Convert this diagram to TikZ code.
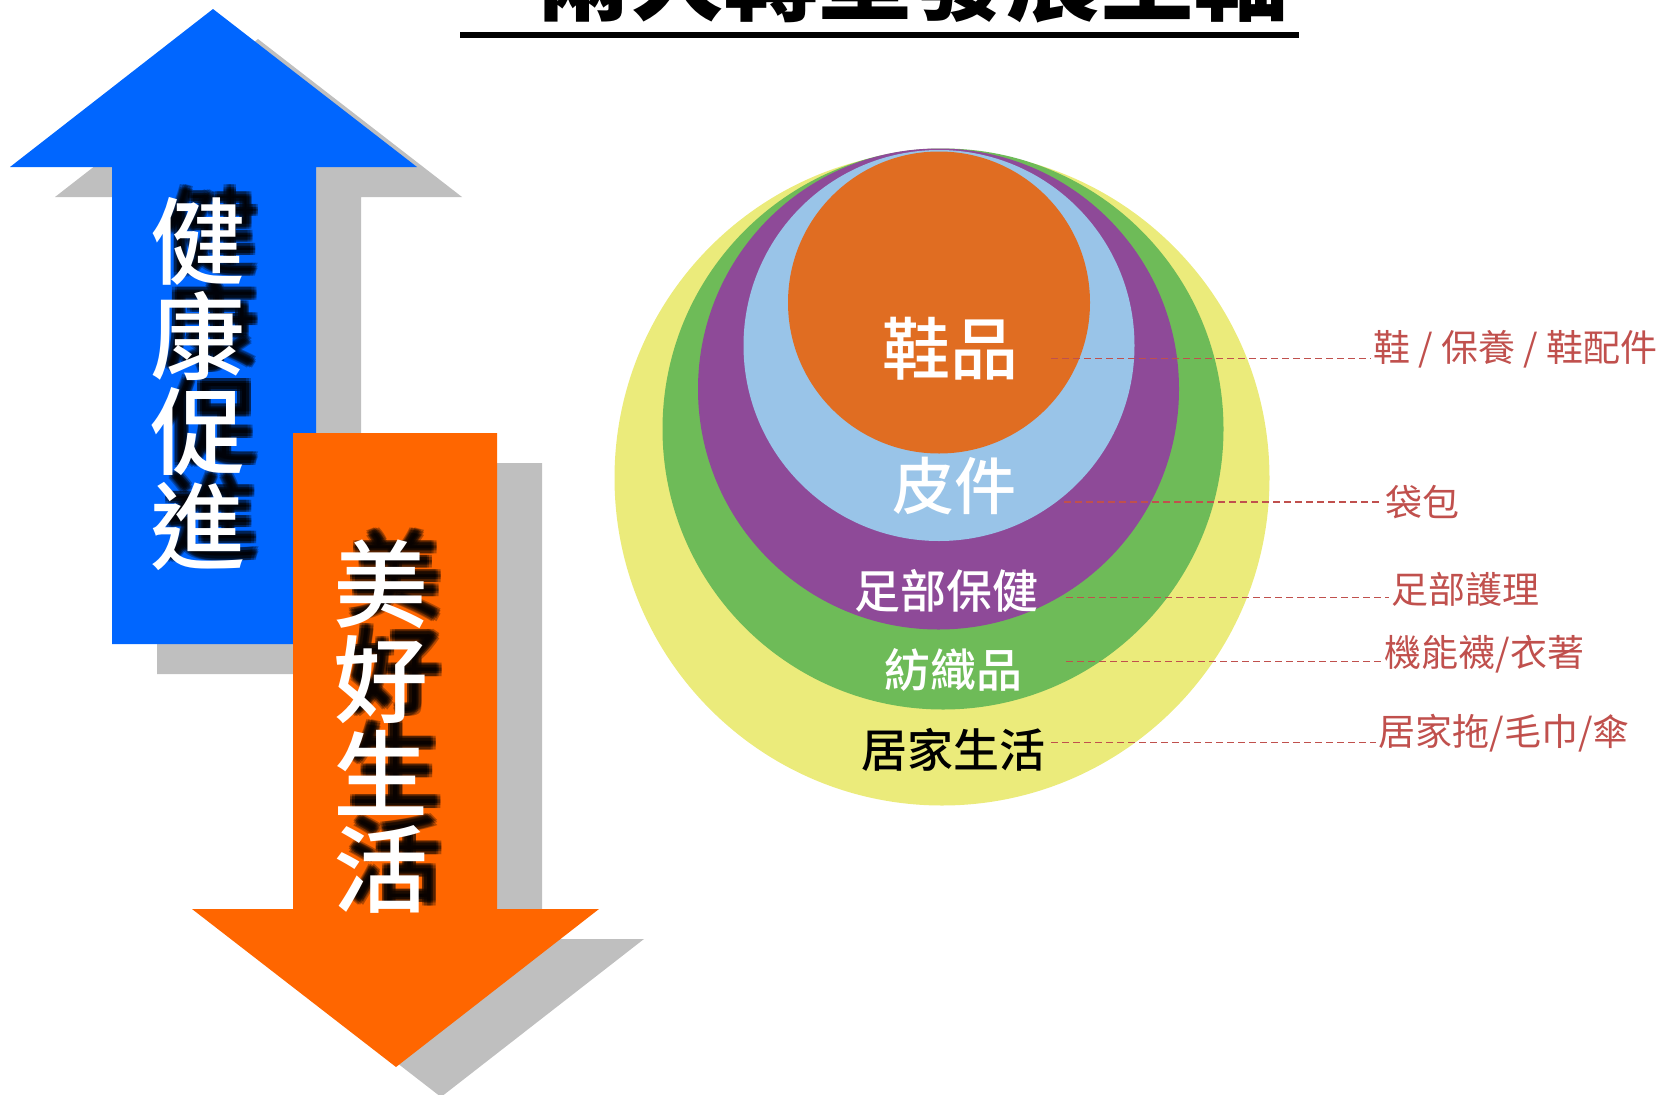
\documentclass[tikz,border=0pt]{standalone}
\usepackage{fontspec}
\setmainfont{Noto Sans CJK TC}
\newfontfamily\medfont{Noto Sans CJK TC Medium}
\definecolor{upblue}{HTML}{0066FF}
\definecolor{downorange}{HTML}{FF6600}
\definecolor{shadegray}{HTML}{BFBFBF}
\definecolor{ringyellow}{HTML}{EBEB7B}
\definecolor{ringgreen}{HTML}{6EBB58}
\definecolor{ringpurple}{HTML}{8E4A98}
\definecolor{ringblue}{HTML}{99C4E8}
\definecolor{ringorange}{HTML}{E06D22}
\definecolor{notered}{HTML}{C0504D}
\begin{document}
\begin{tikzpicture}[x=1pt, y=-1pt,
    ring/.style={circle, inner sep=0pt, minimum size=#1},
    ringtxt/.style={text=white, inner sep=0pt, font=\medfont\fontsize{#1}{#1}\selectfont},
    vtxt/.style={align=center, inner sep=0pt, font=\medfont\fontsize{95}{95}\selectfont},
    sidetxt/.style={anchor=west, inner sep=3pt, text=notered, font=\fontsize{37}{37}\selectfont},
    guide/.style={draw=notered, line width=1.8pt, dash pattern=on 7pt off 4pt}]
    \useasboundingbox (0,0) rectangle (1668,1095);
    %% Title
    \node[anchor=base west, inner sep=0pt, font=\bfseries\fontsize{94}{94}\selectfont]
        (title) at (442,13.5) {「兩大轉型發展主軸};
    \draw[line width=5.5pt] (460,35) -- (1299,35);
    %% Arrows
    \fill[shadegray, shift={(45,30)}] (213,9) -- (417,167) -- (316,167) -- (316,644)
        -- (112,644) -- (112,167) -- (10,167) -- cycle;
    \fill[upblue] (213,9) -- (417,167) -- (316,167) -- (316,644)
        -- (112,644) -- (112,167) -- (10,167) -- cycle;
    \fill[shadegray, shift={(45,30)}] (396,1067) -- (599,909) -- (497,909) -- (497,433)
        -- (293,433) -- (293,909) -- (192,909) -- cycle;
    \fill[downorange] (396,1067) -- (599,909) -- (497,909) -- (497,433)
        -- (293,433) -- (293,909) -- (192,909) -- cycle;
    %% Arrow Text
    \foreach \dx/\dy [count=\i] in {0/0,2.5/0,5/0,0/2.5,2.5/2.5,5/2.5,0/5,2.5/5,5/5}{
        \node[vtxt, text=black, opacity=0.3] (healthblur\i) at (209+\dx, 371.5+\dy) {健\\康\\促\\進};
        \node[vtxt, text=black, opacity=0.3] (lifeblur\i) at (392.5+\dx, 714.5+\dy) {美\\好\\生\\活};
    }
    \node[vtxt, text=white] (health) at (197.5,384) {健\\康\\促\\進};
    \node[vtxt, text=white] (life) at (381,727) {美\\好\\生\\活};
    %% Rings
    \node[ring=655, fill=ringyellow] (home) at (942,478) {};
    \node[ring=561, fill=ringgreen] (textile) at (943,429) {};
    \node[ring=481, fill=ringpurple] (footcare) at (938.5,389) {};
    \node[ring=391, fill=ringblue] (leather) at (939,345.5) {};
    \node[ring=302, fill=ringorange] (shoes) at (939,302.5) {};
    %% Ring Text
    \node[ringtxt=68] (shoestxt) at (950,349) {鞋品};
    \node[ringtxt=62] (leathertxt) at (954,486) {皮件};
    \node[ringtxt=46] (footcaretxt) at (946,591) {足部保健};
    \node[ringtxt=46] (textiletxt) at (953,670) {紡織品};
    \node[ringtxt=46, text=black] (hometxt) at (953.5,750) {居家生活};
    %% Side Notes
    \node[sidetxt] (shoesnote) at (1370.5,349) {鞋\hspace{0.22em}/\hspace{0.22em}保養\hspace{0.22em}/\hspace{0.22em}鞋配件};
    \node[sidetxt] (leathernote) at (1382.5,502) {袋包};
    \node[sidetxt] (footcarenote) at (1388.5,589) {足部護理};
    \node[sidetxt] (textilenote) at (1381.5,654) {機能襪/衣著};
    \node[sidetxt] (homenote) at (1375.5,733) {居家拖/毛巾/傘};
    \coordinate (g1) at (1051,358.5);
    \coordinate (g2) at (1064,502);
    \coordinate (g3) at (1066,597.5);
    \coordinate (g4) at (1066,661.5);
    \coordinate (g5) at (1051,742.5);
    \draw[guide] (g1) -- (g1 -| shoesnote.west);
    \draw[guide] (g2) -- (g2 -| leathernote.west);
    \draw[guide] (g3) -- (g3 -| footcarenote.west);
    \draw[guide] (g4) -- (g4 -| textilenote.west);
    \draw[guide] (g5) -- (g5 -| homenote.west);
\end{tikzpicture}
\end{document}
